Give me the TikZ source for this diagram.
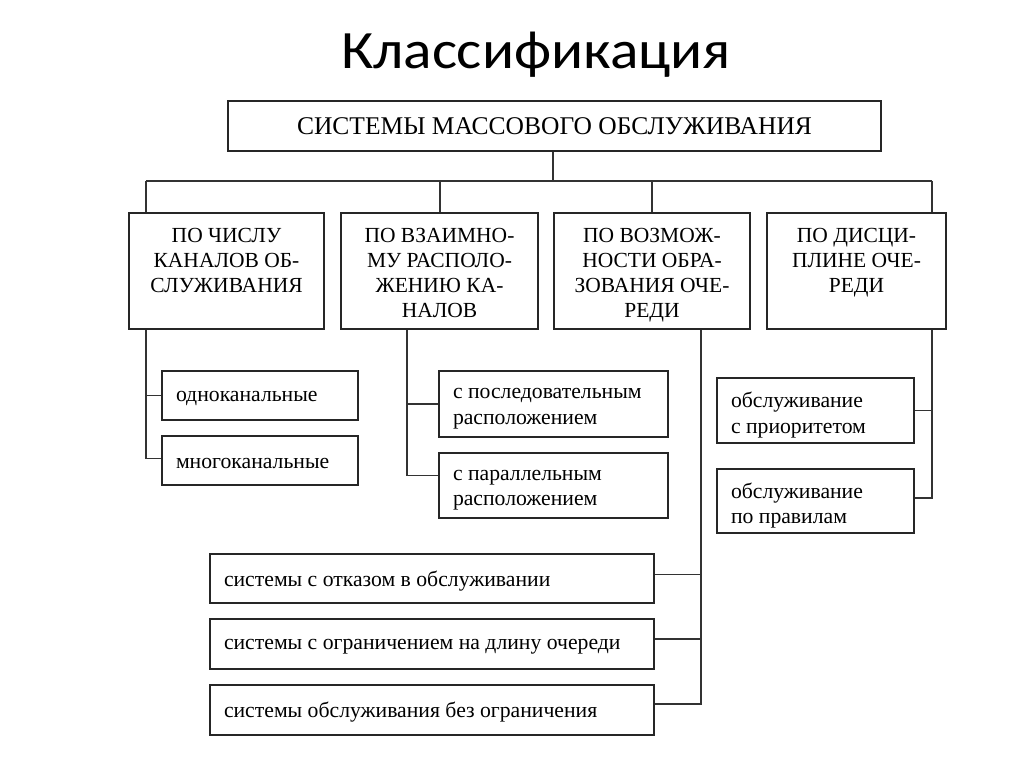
\documentclass[tikz,border=0pt]{standalone}
\usepackage{fontspec}
\setmainfont{Liberation Serif}
\newfontfamily\titlefont[FakeStretch=1.1]{Carlito}
\begin{document}
\begin{tikzpicture}[x=1pt,y=-1pt,
  box/.style={draw=black!85, line width=1.4pt, fill=white, inner sep=0pt},
  catbox/.style={box, align=center},
  leaf/.style={box, align=left, inner xsep=14pt, inner ysep=0pt, font=\fontsize{21.7}{25.5}\selectfont},
  conn/.style={draw=black!80, line width=1.3pt}]
\useasboundingbox[fill=white] (0,0) rectangle (1024,767);
\node[anchor=base, font=\titlefont\fontsize{54}{60}\selectfont] (title) at (536,69) {Классификация};

\node[box, minimum width=653pt, minimum height=50pt, font=\fontsize{25.5}{28}\selectfont] (top) at (554.5,126) {СИСТЕМЫ МАССОВОГО ОБСЛУЖИВАНИЯ};

\newcommand{\cattxt}[2]{\parbox[c][116pt][t]{#1}{\centering\fontsize{21.5}{25}\selectfont\vspace*{15pt}#2\par}}
\node[catbox] (c1) at (226.5,271) {\cattxt{195pt}{ПО ЧИСЛУ\\КАНАЛОВ ОБ-\\СЛУЖИВАНИЯ}};
\node[catbox] (c2) at (439.5,271) {\cattxt{197pt}{ПО ВЗАИМНО-\\МУ РАСПОЛО-\\ЖЕНИЮ КА-\\НАЛОВ}};
\node[catbox] (c3) at (652,271) {\cattxt{196pt}{ПО ВОЗМОЖ-\\НОСТИ ОБРА-\\ЗОВАНИЯ ОЧЕ-\\РЕДИ}};
\node[catbox] (c4) at (856.5,271) {\cattxt{179pt}{ПО ДИСЦИ-\\ПЛИНЕ ОЧЕ-\\РЕДИ}};

\newcommand{\leaftxt}[3]{\parbox[c][#2][c]{#1}{\raggedright\vspace*{5pt}#3}}
\newcommand{\leaftxtb}[3]{\parbox[c][#2][c]{#1}{\raggedright\vspace*{9pt}#3}}
\node[leaf] (l1) at (260,395.5) {\leaftxt{168pt}{49pt}{одноканальные}};
\node[leaf] (l2) at (260,460.5) {\leaftxt{168pt}{49pt}{многоканальные}};
\node[leaf] (l3) at (553.5,404) {\leaftxtb{201pt}{66pt}{с последовательным\\расположением}};
\node[leaf] (l4) at (553.5,485.5) {\leaftxtb{201pt}{65pt}{с параллельным\\расположением}};
\node[leaf] (l5) at (815.5,410.5) {\leaftxtb{169pt}{65pt}{обслуживание\\с приоритетом}};
\node[leaf] (l6) at (815.5,501) {\leaftxtb{169pt}{64pt}{обслуживание\\по правилам}};
\node[leaf] (l7) at (432,578.5) {\leaftxt{416pt}{49pt}{системы с отказом в обслуживании}};
\node[leaf] (l8) at (432,644) {\leaftxt{416pt}{50pt}{системы с ограничением на длину очереди}};
\node[leaf] (l9) at (432,710) {\leaftxt{416pt}{50pt}{системы обслуживания без ограничения}};

\coordinate (hub) at (553,181);
\coordinate (h1) at (146,181);
\coordinate (h2) at (440,181);
\coordinate (h3) at (652,181);
\coordinate (h4) at (932,181);
\draw[conn] (hub |- top.south) -- (hub);
\draw[conn] (h1) -- (h4);
\draw[conn] (h1) -- (h1 |- c1.north);
\draw[conn] (h2) -- (h2 |- c2.north);
\draw[conn] (h3) -- (h3 |- c3.north);
\draw[conn] (h4) -- (h4 |- c4.north);

\coordinate (t1) at (146,0);
\coordinate (t2) at (407,0);
\coordinate (t3) at (701,0);
\coordinate (t4) at (932,0);
\coordinate (b2) at ([yshift=2pt]l2.west);
\coordinate (b4) at ([yshift=10pt]l4.west);
\coordinate (b6) at ([yshift=3pt]l6.east);
\coordinate (b7) at ([yshift=4pt]l7.east);
\coordinate (b8) at ([yshift=5pt]l8.east);
\coordinate (b9) at ([yshift=6pt]l9.east);
\draw[conn] (t1 |- c1.south) -- (t1 |- b2) -- (b2);
\draw[conn] (t1 |- l1.west) -- (l1.west);
\draw[conn] (t2 |- c2.south) -- (t2 |- b4) -- (b4);
\draw[conn] (t2 |- l3.west) -- (l3.west);
\draw[conn] (t3 |- c3.south) -- (t3 |- b9) -- (b9);
\draw[conn] (t3 |- b7) -- (b7);
\draw[conn] (t3 |- b8) -- (b8);
\draw[conn] (t4 |- c4.south) -- (t4 |- b6) -- (b6);
\draw[conn] (t4 |- l5.east) -- (l5.east);
\end{tikzpicture}
\end{document}
